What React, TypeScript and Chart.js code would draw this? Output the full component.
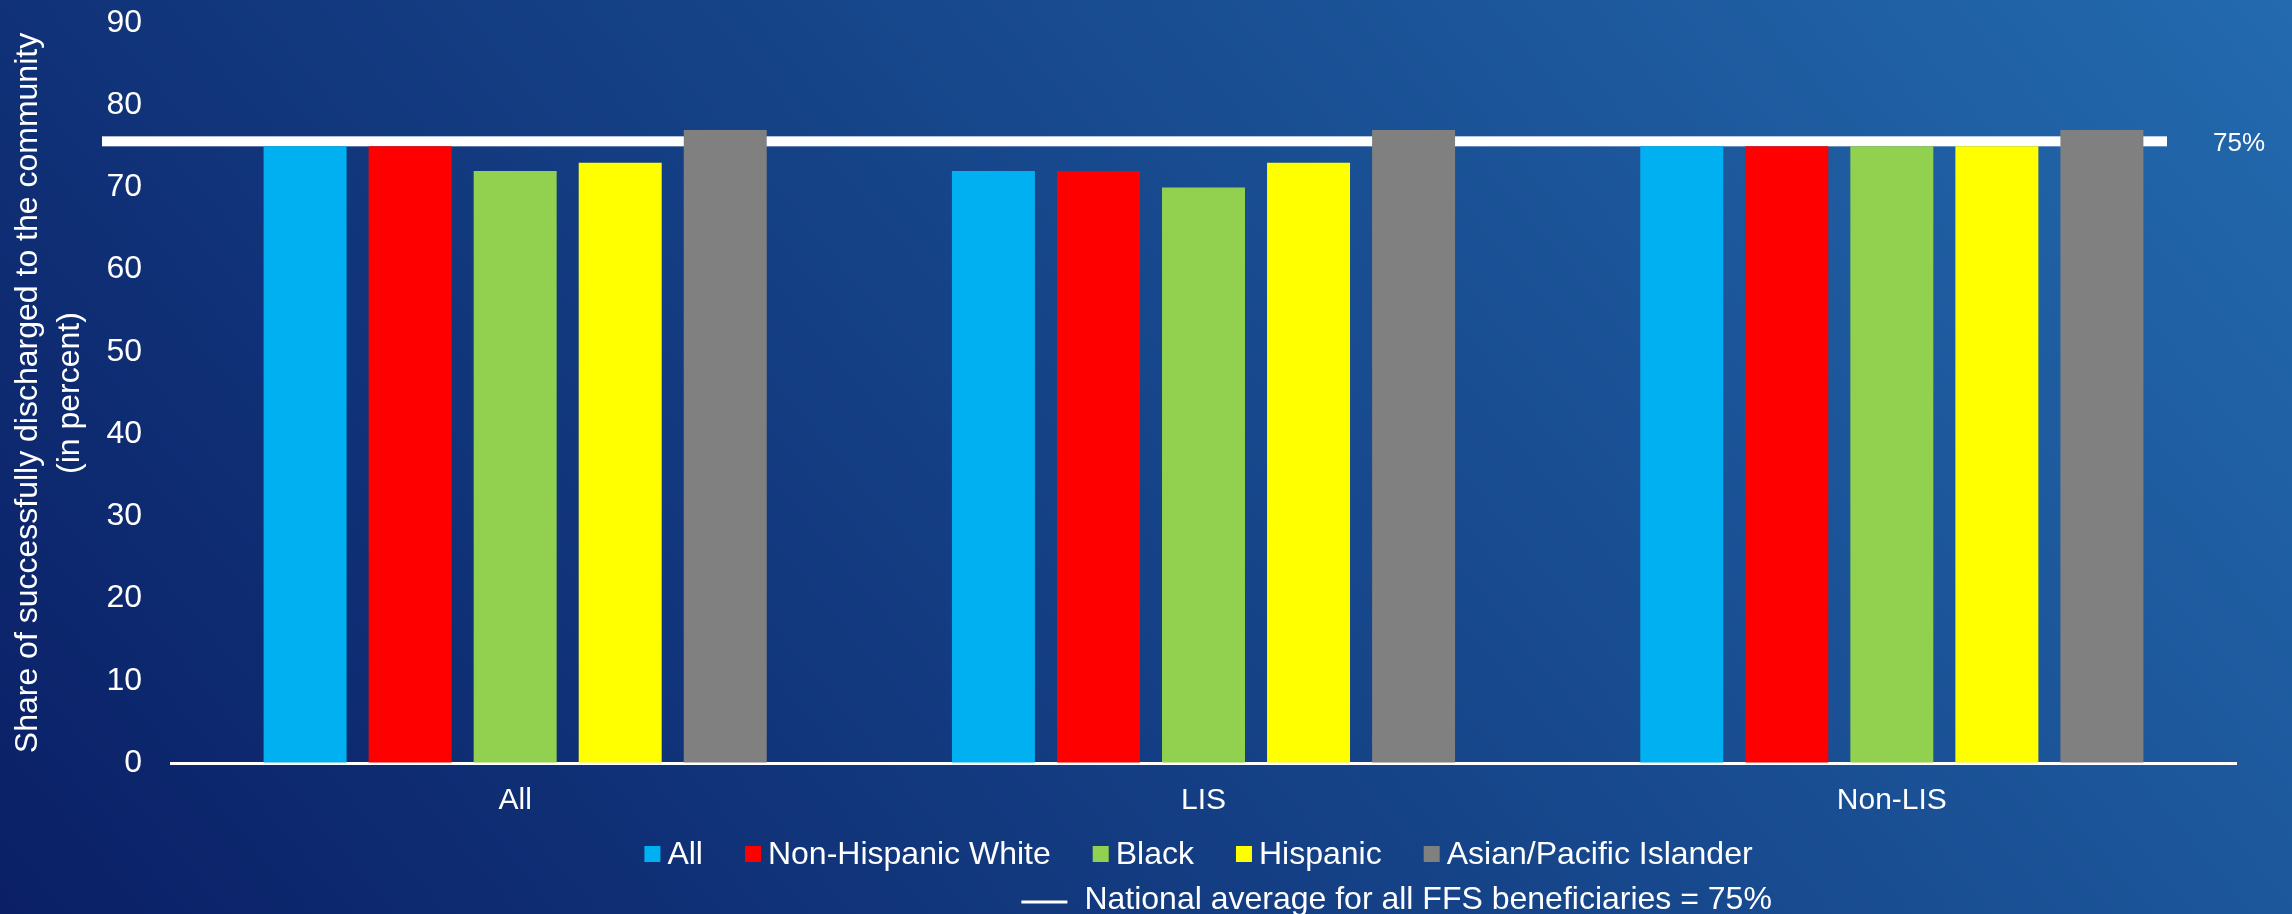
import React, { useEffect, useRef } from 'react';
import { Chart, registerables } from 'chart.js';

Chart.register(...registerables);

const categories = ['All', 'LIS', 'Non-LIS'];
const seriesNames = ['All', 'Non-Hispanic White', 'Black', 'Hispanic', 'Asian/Pacific Islander'];
const allValues = [75, 72, 75];
const nonHispanicWhiteValues = [75, 72, 75];
const blackValues = [72, 70, 75];
const hispanicValues = [73, 73, 75];
const asianPacificValues = [77, 77, 77];
const seriesColors = ['#00B0F0', '#FF0000', '#92D050', '#FFFF00', '#808080'];
const nationalAverage = 75;
const nationalAverageLabel = '75%';
const nationalAverageLegend = 'National average for all FFS beneficiaries = 75%';
const yMin = 0;
const yMax = 90;
const yStep = 10;
const yAxisTitle = ['Share of successfully discharged to the community', '(in percent)'];

const FONT = '"Liberation Sans", Arial, sans-serif';
const W = 2292;
const H = 914;

const refLinePlugin = {
  id: 'refLine',
  beforeDatasetsDraw(chart: any) {
    const { ctx, chartArea } = chart;
    const y = chart.scales.y.getPixelForValue(nationalAverage);
    const shift = 69;
    ctx.save();
    ctx.fillStyle = '#FFFFFF';
    ctx.fillRect(chartArea.left - shift, y - 10, chartArea.right - chartArea.left, 10);
    ctx.font = `26px ${FONT}`;
    ctx.textBaseline = 'middle';
    ctx.textAlign = 'left';
    ctx.fillText(nationalAverageLabel, chartArea.right - shift + 46, y - 3);
    ctx.restore();
  },
};

const customLegendPlugin = {
  id: 'customLegend',
  afterDraw(chart: any) {
    const { ctx, chartArea } = chart;
    const datasets = chart.data.datasets;
    const fontSize = 32;
    ctx.save();
    ctx.font = `${fontSize}px ${FONT}`;
    ctx.textBaseline = 'middle';
    ctx.textAlign = 'left';
    const box = 16;
    const boxGap = 7;
    const itemGap = 42;
    const widths = datasets.map((d: any) => ctx.measureText(d.label).width);
    let total = 0;
    widths.forEach((w: number, i: number) => {
      total += box + boxGap + w + (i < widths.length - 1 ? itemGap : 0);
    });
    const cx = (chartArea.left + chartArea.right) / 2 - 5;
    let x = cx - total / 2;
    const startX = x;
    const y1 = chartArea.bottom + 91;
    datasets.forEach((d: any, i: number) => {
      ctx.fillStyle = d.backgroundColor;
      ctx.fillRect(x, y1 - box / 2, box, box);
      ctx.fillStyle = '#FFFFFF';
      ctx.fillText(d.label, x + box + boxGap, y1 + 1);
      x += box + boxGap + widths[i] + itemGap;
    });
    // second row: national average line
    const y2 = chartArea.bottom + 137;
    const lx = startX + 377;
    ctx.strokeStyle = '#FFFFFF';
    ctx.lineWidth = 3;
    ctx.beginPath();
    ctx.moveTo(lx, y2 + 2);
    ctx.lineTo(lx + 46, y2 + 2);
    ctx.stroke();
    ctx.fillStyle = '#FFFFFF';
    ctx.fillText(nationalAverageLegend, lx + 63, y2);
    ctx.restore();
  },
};

export default function App() {
  const canvasRef = useRef<HTMLCanvasElement | null>(null);

  useEffect(() => {
    document.body.style.margin = '0';
    const canvas = canvasRef.current;
    if (!canvas) return;
    const seriesValues = [allValues, nonHispanicWhiteValues, blackValues, hispanicValues, asianPacificValues];
    const chart = new Chart(canvas, {
      type: 'bar',
      data: {
        labels: categories,
        datasets: seriesNames.map((name, i) => ({
          label: name,
          data: seriesValues[i],
          backgroundColor: seriesColors[i],
          borderWidth: 0,
          categoryPercentage: 0.763,
          barPercentage: 0.79,
        })),
      },
      options: {
        responsive: false,
        animation: false,
        devicePixelRatio: 1,
        layout: { padding: { top: 23, right: 56, bottom: 95, left: 0 } },
        plugins: {
          legend: { display: false },
          tooltip: { enabled: false },
          title: { display: false },
        },
        scales: {
          x: {
            grid: { display: false, drawTicks: false },
            border: { display: true, color: '#FFFFFF', width: 3 },
            ticks: {
              color: '#FFFFFF',
              font: { family: FONT, size: 30 },
              padding: 20,
            },
            afterFit: (scale: any) => {
              scale.height = 56;
            },
          },
          y: {
            min: yMin,
            max: yMax,
            grid: {
              display: true,
              drawOnChartArea: false,
              drawTicks: true,
              tickLength: 29,
              color: 'rgba(0,0,0,0)',
            },
            border: { display: false },
            ticks: {
              stepSize: yStep,
              color: '#FFFFFF',
              font: { family: FONT, size: 32 },
              padding: 0,
            },
            title: {
              display: true,
              text: yAxisTitle,
              color: '#FFFFFF',
              font: { family: FONT, size: 32, lineHeight: 1.31 },
              padding: { top: 7, bottom: 0 },
            },
            afterFit: (scale: any) => {
              scale.width = 171;
            },
          },
        },
      },
      plugins: [refLinePlugin, customLegendPlugin],
    });
    return () => chart.destroy();
  }, []);

  return (
    <div
      style={{
        width: W,
        height: H,
        background: 'linear-gradient(50deg, #0a1f66 0%, #164489 50%, #236aae 100%)',
      }}
    >
      <canvas ref={canvasRef} width={W} height={H} style={{ display: 'block' }} />
    </div>
  );
}
